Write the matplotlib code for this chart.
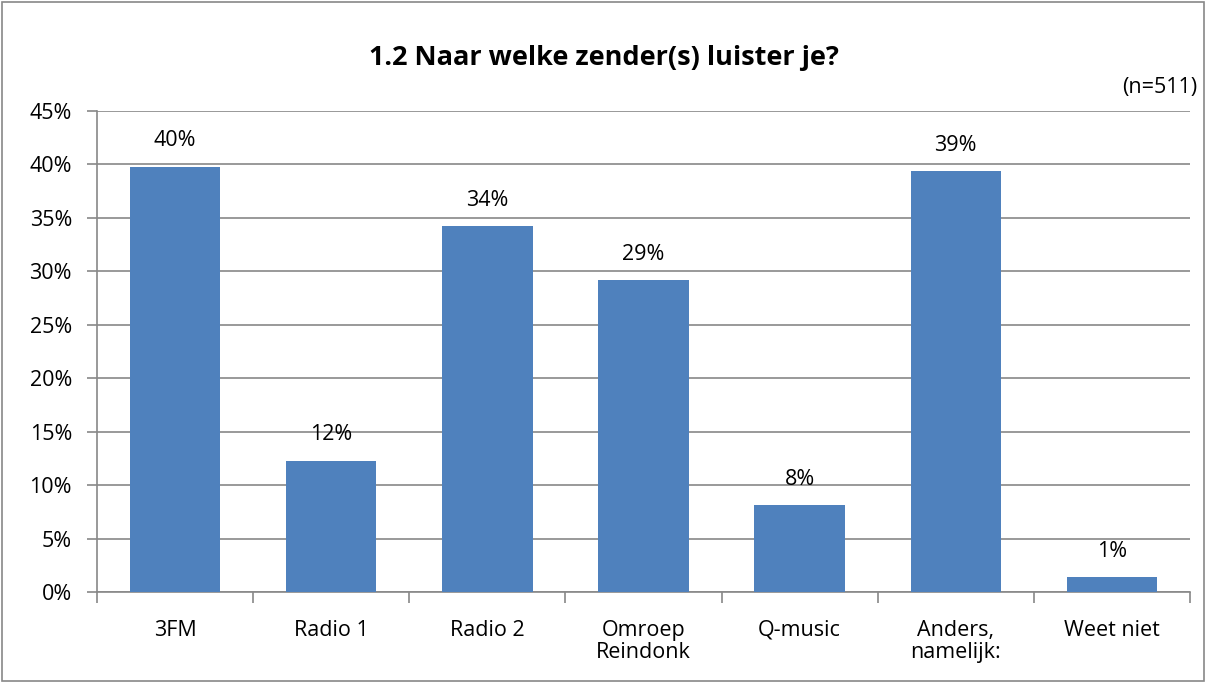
import matplotlib.pyplot as plt
from matplotlib.patches import Rectangle

plt.rcParams['font.family'] = ['Open Sans', 'DejaVu Sans']

zenders = ['3FM', 'Radio 1', 'Radio 2', 'Omroep\nReindonk', 'Q-music', 'Anders,\nnamelijk:', 'Weet niet']
waarden = [39.8, 12.3, 34.2, 29.2, 8.1, 39.4, 1.4]
labels = ['40%', '12%', '34%', '29%', '8%', '39%', '1%']
y_ticks = [0, 5, 10, 15, 20, 25, 30, 35, 40, 45]

fs = 15.5

fig = plt.figure(figsize=(12.08, 6.83), dpi=100)
ax = fig.add_axes([97 / 1208, 1 - 592 / 683, (1190 - 97) / 1208, (592 - 111) / 683])

x = range(len(zenders))
ax.bar(x, waarden, width=0.58, color='#4F81BD', zorder=3)
for i, v in enumerate(waarden):
    ax.text(i, v + 2.4, labels[i], ha='center', va='center', fontsize=fs)

ax.set_ylim(0, 45)
ax.set_xlim(-0.5, len(zenders) - 0.5)
ax.set_yticks(y_ticks)
ax.set_yticklabels([f'{t}%' for t in y_ticks], fontsize=fs)
ax.yaxis.grid(True, color='#888888', linewidth=1.2, zorder=0)
ax.tick_params(axis='y', length=7, color='#888888', width=1.2, pad=11)

ax.set_xticks([i - 0.5 for i in range(len(zenders) + 1)], minor=False)
ax.set_xticklabels([])
ax.set_xticks(list(x), minor=True)
ax.set_xticklabels(zenders, minor=True, fontsize=fs, va='top', linespacing=1.05)
ax.tick_params(axis='x', which='major', length=8, color='#888888', width=1.2, direction='out')
ax.tick_params(axis='x', which='minor', length=0, pad=20)

for s in ['top', 'right']:
    ax.spines[s].set_visible(False)
for s in ['left', 'bottom']:
    ax.spines[s].set_color('#888888')
    ax.spines[s].set_linewidth(1.2)

fig.text(0.5, 1 - 58 / 683, '1.2 Naar welke zender(s) luister je?', ha='center', va='center',
         fontsize=19.5, fontweight='bold')
fig.text(1197 / 1208, 1 - 88 / 683, '(n=511)', ha='right', va='center', fontsize=fs)

fig.patches.append(Rectangle((0.002, 0.003), 0.995, 0.994, transform=fig.transFigure,
                             fill=False, edgecolor='#888888', linewidth=1.2))

fig.savefig('out.png', dpi=100)
